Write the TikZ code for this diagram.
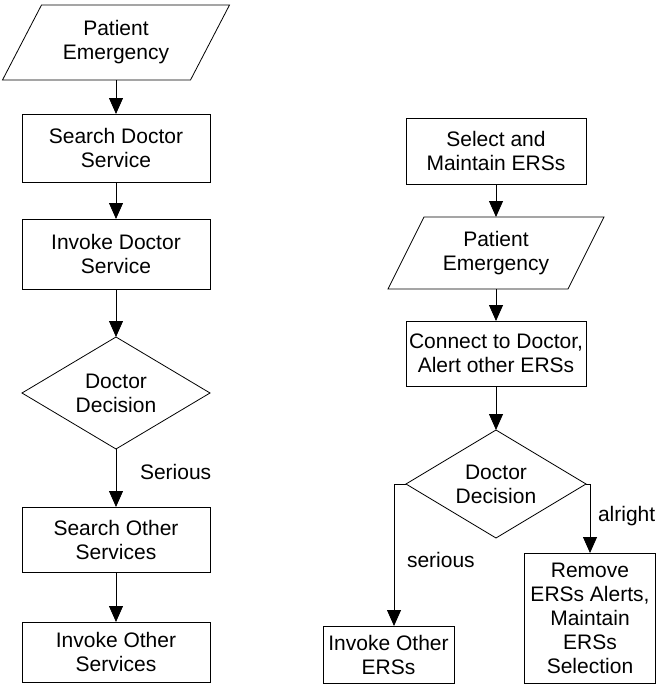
\documentclass[tikz,border=0pt]{standalone}
\usepackage{fontspec}
\setmainfont{Liberation Sans}
\usetikzlibrary{arrows.meta,calc}
\tikzset{
  x=1pt, y=-1pt,
  base/.style={inner sep=0pt, outer sep=0pt, align=center,
    font=\fontsize{21}{24}\selectfont},
  stepbox/.style={base, draw, line width=0.8pt},
  shapebox/.style={base},
  lbl/.style={base, anchor=west},
  sized/.style 2 args={minimum width=#1pt, minimum height=#2pt},
  arr/.style={line width=0.8pt, -{Triangle[width=14pt,length=16pt]}},
  outline/.style={line width=0.8pt},
}
\begin{document}
\begin{tikzpicture}
\useasboundingbox (0,0) rectangle (656,685);

% left flow
\node[shapebox, sized={188}{75}] (pe1) at (116,42.5) {Patient\\Emergency};
\node[stepbox, sized={188}{68}] (sds) at (116,148) {Search Doctor\\Service};
\node[stepbox, sized={188}{70}] (ids) at (116,254) {Invoke Doctor\\Service};
\node[shapebox, sized={188}{112}] (dia1) at (116,393) {Doctor\\Decision};
\node[stepbox, sized={188}{65}] (sos) at (116,539.5) {Search Other\\Services};
\node[stepbox, sized={188}{60}] (ios) at (116,652) {Invoke Other\\Services};

% right flow
\node[stepbox, sized={180}{66}] (sel) at (496,151) {Select and\\Maintain ERSs};
\node[shapebox, sized={180}{72}] (pe2) at (496,253) {Patient\\Emergency};
\node[stepbox, sized={180}{65}] (con) at (496,353.5) {Connect to Doctor,\\Alert other ERSs};
\node[shapebox, sized={180}{108}] (dia2) at (496,484) {Doctor\\Decision};
\node[stepbox, sized={131}{57}] (inv2) at (388.5,654.5) {Invoke Other\\ERSs};
\node[stepbox, sized={131}{130}] (rem) at (590,618) {Remove\\ERSs Alerts,\\Maintain\\ERSs\\Selection};

% parallelogram outlines
\draw[outline] ($(pe1.north west)+(19.5,0)$) -- ($(pe1.north east)+(19.5,0)$)
  -- ($(pe1.south east)+(-19.5,0)$) -- ($(pe1.south west)+(-19.5,0)$) -- cycle;
\draw[outline] ($(pe2.north west)+(18,0)$) -- ($(pe2.north east)+(18,0)$)
  -- ($(pe2.south east)+(-18,0)$) -- ($(pe2.south west)+(-18,0)$) -- cycle;

% decision outlines
\draw[outline] (dia1.north) -- (dia1.east) -- (dia1.south) -- (dia1.west) -- cycle;
\draw[outline] (dia2.north) -- (dia2.east) -- (dia2.south) -- (dia2.west) -- cycle;

% left connectors
\draw[arr] (pe1.south) -- (sds.north);
\draw[arr] (sds.south) -- (ids.north);
\draw[arr] (ids.south) -- (dia1.north);
\draw[arr] (dia1.south) -- (sos.north);
\draw[arr] (sos.south) -- (ios.north);
\node[lbl] (lserious) at (140,472) {Serious};

% right connectors
\draw[arr] (sel.south) -- (pe2.north);
\draw[arr] (pe2.south) -- (con.north);
\draw[arr] (con.south) -- (dia2.north);
\coordinate (seriousdrop) at ($(inv2.north)+(5.5,0)$);
\draw[arr] (dia2.west) -| (seriousdrop);
\draw[arr] (dia2.east) -| (rem.north);
\node[lbl] (rserious) at (407,560) {serious};
\node[lbl] (ralright) at (598,516) {alright};
\end{tikzpicture}
\end{document}
